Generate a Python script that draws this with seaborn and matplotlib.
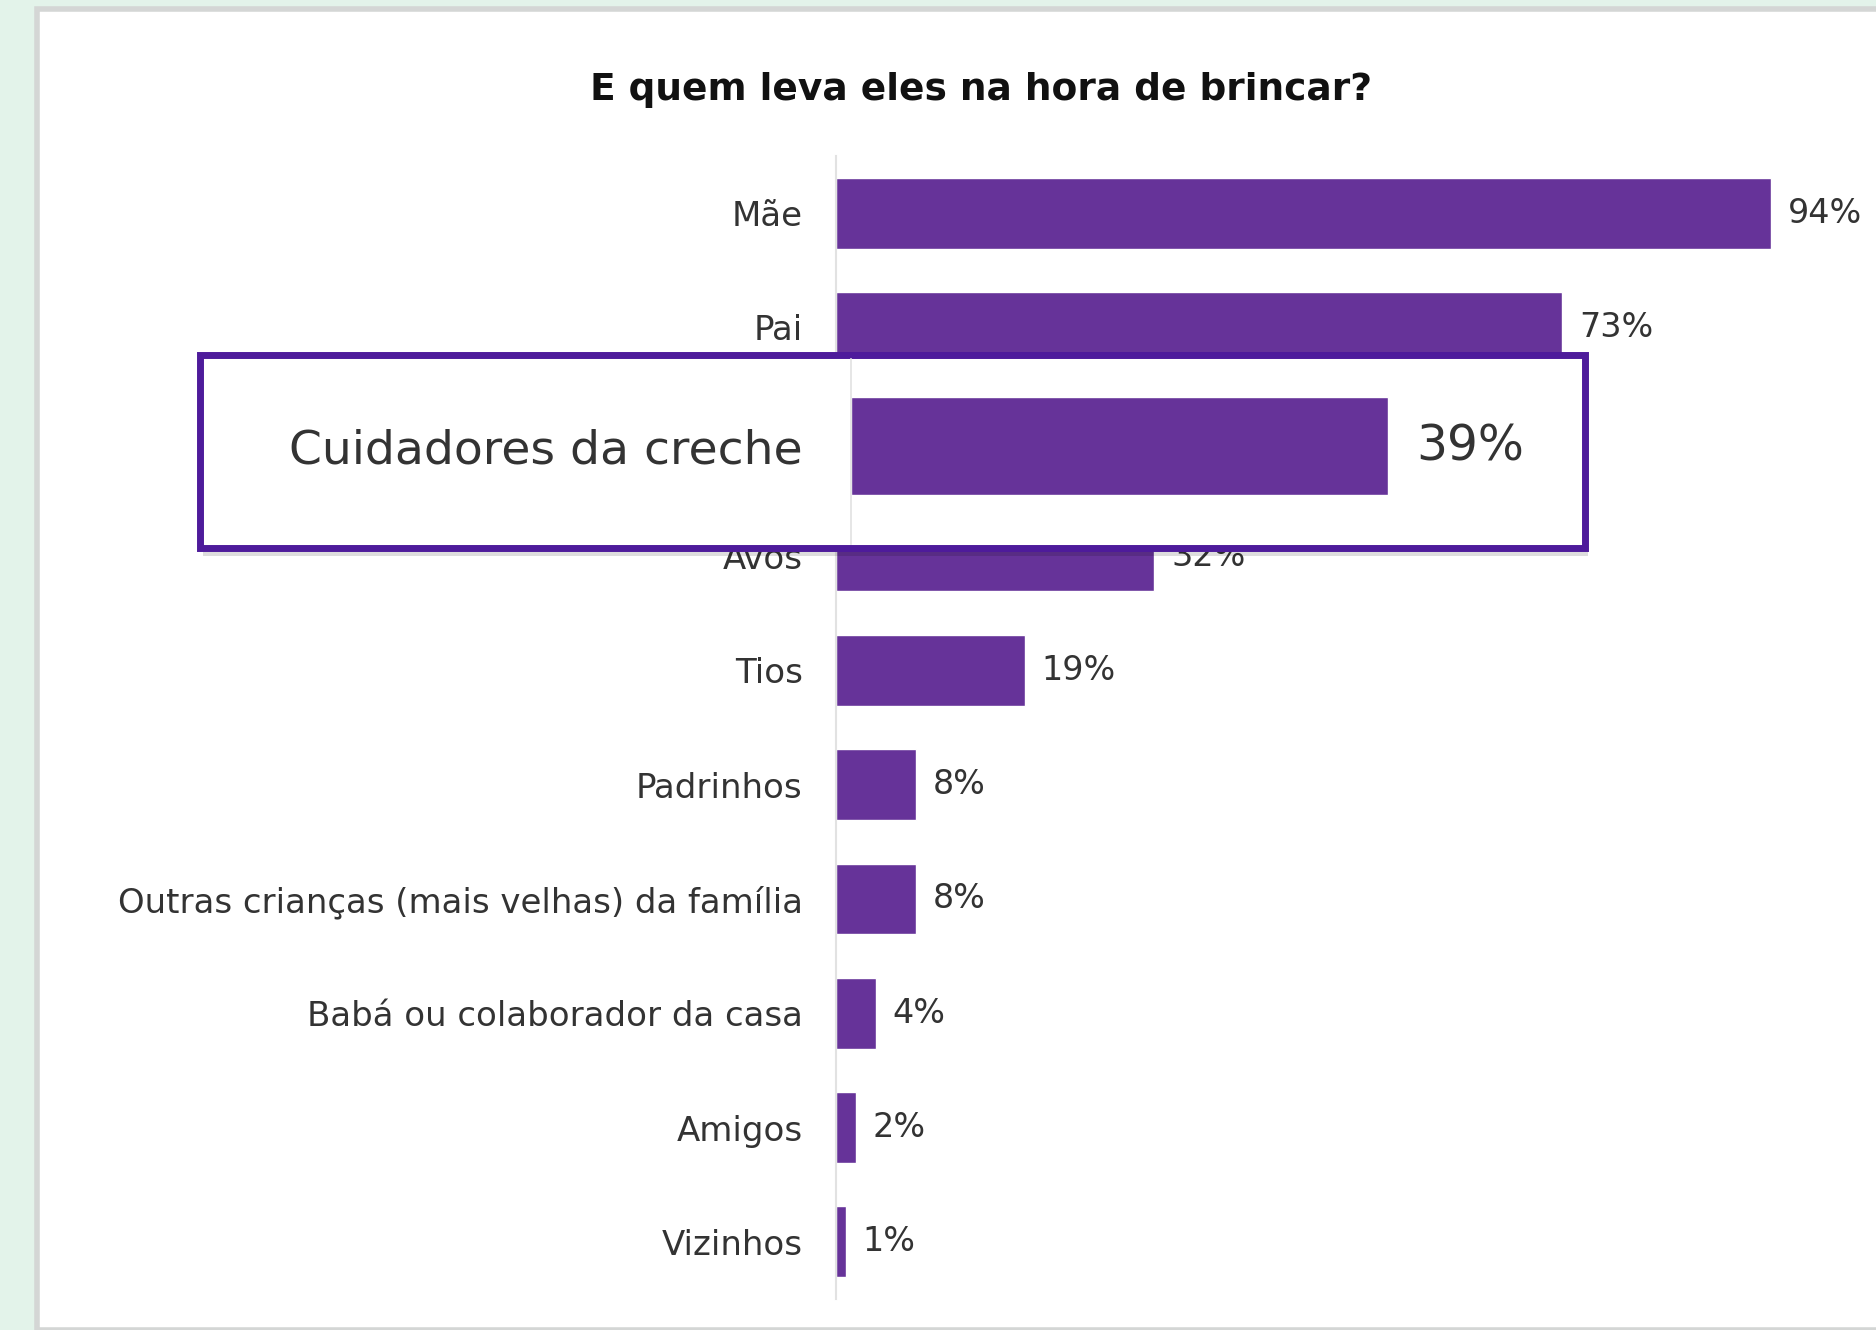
import seaborn as sns
import matplotlib.pyplot as plt
import pandas as pd
from matplotlib.patches import Rectangle

# data
categories = ["Mãe", "Pai", "Cuidadores da creche", "Avós", "Tios", "Padrinhos",
              "Outras crianças (mais velhas) da família", "Babá ou colaborador da casa",
              "Amigos", "Vizinhos"]
values = [94, 73, 39, 32, 19, 8, 8, 4, 2, 1]
highlight = "Cuidadores da creche"
title = "E quem leva eles na hora de brincar?"

purple = "#663399"
border = "#4E1B9B"
text_col = "#333333"

sns.set_theme(style="white")
plt.rcParams['font.family'] = ['DejaVu Sans']

W, H = 1876, 1330
fig = plt.figure(figsize=(W / 100, H / 100), dpi=100, facecolor="#E3F3EA")


def px_box(x0, y0, x1, y1):
    # pixel box (top-left origin) -> figure fraction [l, b, w, h]
    return [x0 / W, 1 - y1 / H, (x1 - x0) / W, (y1 - y0) / H]


# white card
card = Rectangle((37 / W, 0), 1, 1 - 9 / H, transform=fig.transFigure,
                 facecolor="white", edgecolor="#D4D6D5", linewidth=4, zorder=0)
fig.add_artist(card)

df = pd.DataFrame({"quem": categories, "pct": values})

ax = fig.add_axes(px_box(836, 156, 1836, 1299))
ax.set_facecolor("none")
sns.barplot(data=df, y="quem", x="pct", color=purple, saturation=1, width=0.62, ax=ax)
ax.set_xlim(0, 1000 / 9.95)
ax.set_ylim(9.5, -0.5)
ax.set_xlabel("")
ax.set_ylabel("")
ax.set_xticks([])
ax.tick_params(axis="y", length=0, pad=24, labelsize=24.5, labelcolor=text_col)
for s in ["top", "right", "bottom"]:
    ax.spines[s].set_visible(False)
ax.spines["left"].set_color("#E2E2E2")
ax.spines["left"].set_linewidth(1.5)
# the highlighted row is covered by the callout box below
main_labels = ["" if c == highlight else f"{v}%" for c, v in zip(categories, values)]
ax.bar_label(ax.containers[0], labels=main_labels, padding=12, fontsize=24, color=text_col)
for t in ax.get_yticklabels():
    if t.get_text() == highlight:
        t.set_visible(False)

fig.text(981 / W, 1 - 90 / H, title, ha="center", va="center", fontsize=27,
         fontweight="bold", color="#111111")

# callout box (enlarged copy of the highlighted row)
shadow = Rectangle((203 / W, 1 - 556 / H), 1385 / W, 193 / H,
                   transform=fig.transFigure, facecolor="#00000022", edgecolor="none",
                   zorder=5)
fig.add_artist(shadow)
box = Rectangle((200 / W, 1 - 548 / H), 1385 / W, 193 / H, transform=fig.transFigure,
                facecolor="white", edgecolor=border, linewidth=5, zorder=6)
fig.add_artist(box)

sub = df[df["quem"] == highlight]
ax2 = fig.add_axes(px_box(851, 359, 1581, 544), zorder=7)
ax2.set_facecolor("none")
sns.barplot(data=sub, y="quem", x="pct", color=purple, saturation=1, width=0.6, ax=ax2)
ax2.set_xlim(0, 730 / 13.77)
ax2.set_ylim(0.606, -0.538)
ax2.set_xlabel("")
ax2.set_ylabel("")
ax2.set_xticks([])
ax2.tick_params(axis="y", length=0, pad=35, labelsize=34, labelcolor=text_col)
for s in ["top", "right", "bottom"]:
    ax2.spines[s].set_visible(False)
ax2.spines["left"].set_color("#E2E2E2")
ax2.spines["left"].set_linewidth(1.2)
ax2.bar_label(ax2.containers[0], labels=[f"{v}%" for v in sub["pct"]], padding=20,
              fontsize=35, color=text_col)

fig.savefig("out.png", dpi=100, facecolor=fig.get_facecolor())
